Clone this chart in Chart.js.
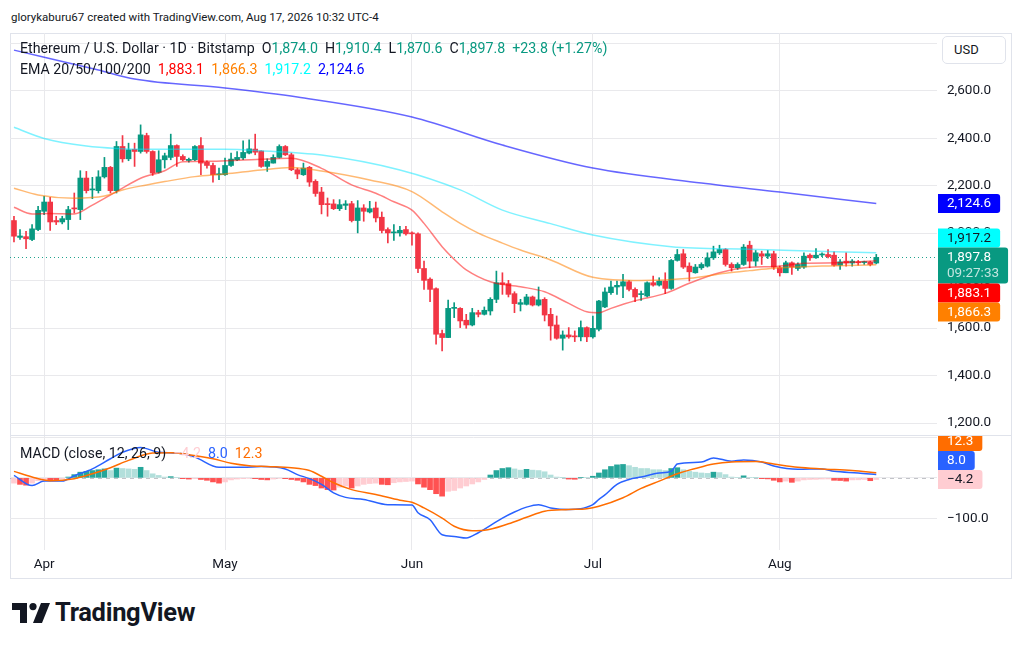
<!DOCTYPE html>
<html>
<head>
<meta charset="utf-8">
<script src="https://cdn.jsdelivr.net/npm/chart.js@4.4.1/dist/chart.umd.min.js"></script>
<style>
  body { margin: 0; width: 1024px; height: 648px; overflow: hidden; position: relative; background: #fff;
         font-family: Roboto, "Noto Sans", sans-serif; color: #131722; }
  .abs { position: absolute; }
  #head { left: 11px; top: 10px; font-size: 11.5px; }
  #frame { left: 10px; top: 33px; width: 1002px; height: 546px; border: 1px solid #e0e3eb; box-sizing: border-box; }
  #sep { left: 10px; top: 435px; width: 1002px; height: 1px; background: #e0e3eb; }
  #main { left: 10px; top: 33px; }
  #macd { left: 10px; top: 436px; }
  .leg { font-size: 14.2px; white-space: pre; line-height: 21px; }
  #usd { left: 942px; top: 36px; width: 64px; height: 28px; border: 1px solid #e0e3eb; border-radius: 5px;
         background: #fff; box-sizing: border-box; font-size: 13px; line-height: 26px; padding-left: 11px; }
  #logo { left: 12px; top: 597px; font-size: 25.5px; font-weight: 700; letter-spacing: -0.3px; }
  .g { color: #089981; }
</style>
</head>
<body>
<div id="head" class="abs">glorykaburu67 created with TradingView.com, Aug 17, 2026 10:32 UTC-4</div>
<div id="frame" class="abs"></div>
<canvas id="main" class="abs" width="1001" height="402"></canvas>
<canvas id="macd" class="abs" width="1001" height="142"></canvas>
<div id="sep" class="abs"></div>
<div id="usd" class="abs">USD</div>
<div class="abs leg" style="left:20px;top:38px">Ethereum / U.S. Dollar · 1D · Bitstamp  O<span class="g">1,874.0</span>  H<span class="g">1,910.4</span>  L<span class="g">1,870.6</span>  C<span class="g">1,897.8</span>  <span class="g">+23.8 (+1.27%)</span></div>
<div class="abs leg" style="left:20px;top:59px">EMA 20/50/100/200  <span style="color:#ff0000">1,883.1</span>  <span style="color:#ff8000">1,866.3</span>  <span style="color:#00ffff">1,917.2</span>  <span style="color:#0000ff">2,124.6</span></div>
<div class="abs leg" style="left:20px;top:443px">MACD (close, 12, 26, 9)  <span style="color:#ffcdd2">−4.2</span>  <span style="color:#2962ff">8.0</span>  <span style="color:#ff6d00">12.3</span></div>
<div id="logo" class="abs">
  <svg width="38" height="20" viewBox="0 0 38 20" style="vertical-align:-2px;margin-right:5px">
    <path d="M0 0H15V20H8V7H0Z" fill="#131722"/>
    <circle cx="21" cy="3.6" r="3.6" fill="#131722"/>
    <path d="M29 0H38L30 20H21Z" fill="#131722"/>
  </svg>TradingView</div>

<script>
// daily candles, Mar 27 .. Aug 17
const opens = [2053,1982,1985,1973,2015,2092,2131,2053,2047,2057,2106,2099,2232,2182,2179,2237,2277,2179,2365,2313,
  2353,2344,2411,2344,2256,2309,2319,2369,2323,2306,2309,2369,2299,2285,2246,2246,2285,2309,2317,2337,
  2354,2346,2281,2295,2319,2365,2330,2267,2246,2277,2218,2173,2123,2123,2103,2117,2124,2053,2106,2089,
  2106,2067,2015,2001,2001,2015,1999,1997,1851,1806,1766,1577,1560,1683,1683,1633,1613,1665,1658,1672,
  1721,1791,1787,1745,1700,1700,1731,1697,1721,1658,1613,1557,1571,1567,1563,1602,1563,1595,1689,1749,
  1773,1777,1795,1763,1741,1735,1791,1781,1798,1767,1885,1913,1861,1833,1854,1861,1896,1917,1931,1868,
  1854,1868,1949,1882,1913,1903,1913,1854,1833,1875,1851,1857,1907,1896,1908,1910,1907,1865,1882,1874,
  1879,1876,1878,1874];
const highs = [2071,2015,2008,2036,2113,2155,2151,2071,2071,2113,2169,2263,2260,2235,2263,2319,2281,2386,2411,2379,
  2379,2456,2421,2347,2347,2337,2417,2372,2330,2316,2369,2403,2305,2295,2274,2316,2337,2344,2389,2393,
  2417,2347,2313,2330,2372,2369,2337,2274,2295,2281,2225,2193,2148,2141,2141,2137,2134,2137,2120,2134,
  2131,2089,2022,2036,2029,2029,2005,2001,1882,1812,1770,1591,1718,1707,1686,1658,1683,1675,1689,1728,
  1840,1833,1801,1753,1721,1742,1735,1773,1728,1683,1651,1588,1602,1588,1630,1605,1651,1717,1770,1798,
  1798,1826,1801,1770,1756,1795,1819,1812,1833,1889,1931,1931,1875,1868,1875,1917,1945,1949,1935,1875,
  1875,1952,1966,1927,1924,1927,1924,1861,1882,1879,1875,1917,1913,1935,1917,1931,1921,1889,1917,1889,
  1885,1882,1882,1910.4];
const lows = [1963,1973,1935,1968,2010,2078,2011,2036,2039,2015,2085,2057,2169,2145,2169,2232,2169,2169,2299,2305,
  2281,2337,2337,2243,2253,2274,2309,2281,2305,2299,2305,2246,2274,2215,2225,2243,2281,2305,2309,2334,
  2330,2277,2260,2295,2316,2327,2263,2229,2243,2197,2155,2081,2071,2099,2095,2099,2047,2001,2050,2085,
  2047,2001,1959,1969,1987,1991,1949,1833,1763,1711,1532,1504,1560,1644,1602,1599,1609,1647,1655,1655,
  1707,1742,1731,1665,1672,1697,1693,1693,1630,1549,1553,1507,1557,1543,1546,1543,1557,1588,1686,1742,
  1742,1728,1756,1711,1717,1731,1777,1777,1745,1763,1882,1851,1798,1831,1847,1857,1889,1910,1861,1840,
  1847,1864,1854,1861,1868,1893,1847,1819,1833,1826,1843,1851,1885,1893,1901,1896,1861,1847,1861,1861,
  1865,1868,1862,1870.6];
const closes = [1987,1988,1976,2018,2096,2131,2047,2047,2061,2099,2102,2232,2179,2184,2237,2277,2179,2365,2313,2351,
  2344,2414,2344,2253,2309,2326,2369,2323,2309,2311,2365,2295,2285,2246,2250,2285,2312,2319,2340,2355,
  2341,2281,2302,2319,2365,2330,2267,2249,2274,2215,2167,2120,2120,2103,2120,2123,2053,2106,2092,2103,
  2064,2011,2001,2005,2012,1997,1997,1851,1801,1763,1574,1560,1683,1686,1630,1613,1665,1658,1675,1721,
  1791,1784,1742,1703,1707,1731,1697,1719,1655,1609,1557,1571,1563,1563,1602,1563,1599,1714,1752,1773,
  1780,1795,1763,1731,1742,1791,1781,1798,1767,1885,1910,1857,1837,1857,1868,1896,1921,1931,1868,1854,
  1868,1941,1882,1917,1903,1913,1857,1833,1875,1857,1868,1903,1896,1907,1910,1901,1865,1879,1874,1882,
  1875,1878,1868,1897.8];

// moving averages: [day index, value]
const ema20 = [[0,2109],[3,2081],[6,2083],[10,2081],[13,2118],[17,2175],[21,2231],[25,2263],[28,2301],[33,2303],
  [38,2308],[42,2312],[46,2315],[51,2273],[56,2203],[60,2168],[63,2132],[66,2097],[68,2041],[71,1943],[74,1866],
  [75,1845],[79,1795],[84,1774],[88,1753],[92,1704],[95,1669],[97,1665],[99,1683],[103,1715],[108,1746],
  [112,1789],[117,1833],[122,1856],[126,1859],[131,1873],[137,1875],[143,1883.1]];
const ema50 = [[0,2189],[4,2161],[10,2147],[15,2156],[18,2182],[22,2203],[25,2217],[30,2238],[35,2249],[41,2266],
  [46,2276],[51,2262],[59,2224],[66,2175],[71,2090],[74,2041],[77,2000],[81,1958],[84,1929],[89,1887],[96,1814],
  [104,1800],[112,1810],[118,1831],[122,1842],[126,1852],[134,1861],[143,1866.3]];
const ema100 = [[0,2446],[5,2399],[12,2367],[17,2357],[25,2353],[35,2353],[41,2347],[51,2329],[64,2266],[74,2182],
  [81,2097],[89,2040],[96,1992],[109,1943],[122,1932],[143,1917.2]];
const ema200 = [[0,2771],[14,2687],[20,2649],[35,2611],[47,2573],[66,2489],[81,2371],[96,2274],[114,2211],[127,2173],
  [143,2124.6]];

// MACD pane
const macdLine = [[0,6],[3,-19],[5,-8],[8,-8],[10,5],[13,22],[16,47],[18,63],[21,75],[24,63],[27,61],[30,51],[34,26],
  [38,26],[41,28],[45,22],[47,8],[49,-2],[51,-16],[53,-37],[55,-48],[58,-53],[62,-66],[66,-67],[67,-86],[69,-103],
  [71,-140],[73,-144],[75,-148],[77,-135],[81,-99],[83,-84],[85,-72],[87,-66],[89,-74],[92,-78],[94,-76],[95,-72],
  [96,-66],[97,-53],[98,-42],[100,-16],[102,-4],[104,2],[107,12],[109,16],[110,34],[114,39],[116,49],[119,41],
  [121,44],[124,39],[126,29],[130,21],[134,22],[136,16],[140,12],[143,8.0]];
const signalLine = [[0,16],[3,2],[6,-7],[10,-2],[13,10],[16,25],[19,43],[23,61],[26,62],[29,57],[33,47],[36,36],
  [39,30],[42,28],[46,25],[49,18],[51,4],[53,-12],[56,-29],[60,-41],[64,-55],[66,-60],[68,-74],[71,-99],[73,-119],
  [76,-130],[78,-129],[82,-113],[85,-97],[88,-82],[92,-78],[95,-76],[97,-70],[101,-49],[104,-26],[107,-8],[110,10],
  [113,23],[116,34],[119,39],[123,40],[126,34],[130,26],[134,22],[139,18],[143,12.3]];
const histogram = [-13,-16,-18,-13,-7,-4,-5,-6,-2,2,8,14,16,18,20,22,18,24,23,22,
  21,26,18,10,6,2,3,1,-2,-3,-2,-4,-6,-10,-13,-10,-5,-3,-2,-1,
  -2,-4,-5,-3,-1,-2,-4,-6,-10,-16,-19,-25,-29,-30,-23,-20,-25,-20,-16,-14,
  -13,-16,-17,-12,-10,-9,-8,-15,-23,-29,-39,-45,-33,-31,-25,-20,-15,-10,-4,7,
  18,23,25,22,19,21,19,18,15,7,2,0.5,-3,-3.5,1,1,4,12,20,28,
  32,33,30,26,23,23,20,20,18,23,25,20,16,14,12,11,14,13,8,2,
  1,5,1,0.5,-2,-2.5,-6,-10,-8,-11,-8,-5,-4,-3.8,-3,-2.8,-6,-6.5,-8,-5,
  -4.8,-4,-7,-4.2];

const monthTicks = [5, 35, 66, 96, 127];
const monthNames = ['Apr', 'May', 'Jun', 'Jul', 'Aug'];
const priceTicks = [1200, 1400, 1600, 1800, 2000, 2200, 2400, 2600, 2800];
const macdTicks = [-100, 0, 100];

const UP = '#089981', DOWN = '#f23645', GRID = '#e9e9ec', TXT = '#131722';
const FONT = 'Roboto, "Noto Sans", sans-serif';

function fmt(v) {
  return v.toLocaleString('en-US', {minimumFractionDigits: 1, maximumFractionDigits: 1}).replace('-', '\u2212');
}
const pts = arr => arr.map(p => ({x: p[0], y: p[1]}));
const last = arr => arr[arr.length - 1][1];

const days = closes.map((c, i) => i);
const candleCol = days.map(i => closes[i] >= opens[i] ? UP : DOWN);
const histCol = histogram.map((v, i) => {
  const prev = i ? histogram[i - 1] : v;
  if (v >= 0) return v > prev ? '#26a69a' : '#b2dfdb';
  return v < prev ? '#ff5252' : '#ffcdd2';
});

// right hand value tags, pushed apart around the anchored one
function drawTags(chart, items) {
  const ctx = chart.ctx, ca = chart.chartArea, ys = chart.scales.y;
  ctx.save();
  ctx.font = '13.5px ' + FONT;
  items.forEach(it => { it.y = ys.getPixelForValue(it.value); it.h = it.lines.length > 1 ? 36 : 19; });
  items.sort((a, b) => a.y - b.y);
  const ai = items.findIndex(it => it.anchor);
  items[ai].top = items[ai].y - (items[ai].lines.length > 1 ? 10 : 9.5);
  for (let k = ai - 1; k >= 0; k--) {
    const it = items[k];
    it.top = Math.min(it.y + it.h / 2, items[k + 1].top) - it.h;
  }
  for (let k = ai + 1; k < items.length; k++) {
    const it = items[k];
    it.top = Math.max(it.y - it.h / 2, items[k - 1].top + items[k - 1].h);
  }
  items.forEach(it => {
    const w = Math.max(...it.lines.map(l => ctx.measureText(l).width)) + 18;
    ctx.fillStyle = it.bg;
    ctx.beginPath();
    if (ctx.roundRect) ctx.roundRect(ca.right + 1, it.top, w, it.h, [0, 3, 3, 0]);
    else ctx.rect(ca.right + 1, it.top, w, it.h);
    ctx.fill();
    ctx.textBaseline = 'middle';
    it.lines.forEach((l, j) => {
      ctx.fillStyle = j ? 'rgba(255,255,255,0.75)' : it.fg;
      ctx.fillText(l, ca.right + 10, it.top + 10 + j * 16);
    });
  });
  ctx.restore();
}

const lastPriceLine = {
  id: 'lastPriceLine',
  beforeDatasetsDraw(chart) {
    const ctx = chart.ctx, ca = chart.chartArea;
    const y = chart.scales.y.getPixelForValue(closes[closes.length - 1]);
    ctx.save();
    ctx.strokeStyle = 'rgba(8,153,129,0.9)';
    ctx.lineWidth = 1;
    ctx.setLineDash([1, 3]);
    ctx.beginPath();
    ctx.moveTo(ca.left, Math.round(y) + 0.5);
    ctx.lineTo(ca.right, Math.round(y) + 0.5);
    ctx.stroke();
    ctx.restore();
  },
  afterDraw(chart) {
    drawTags(chart, [
      {value: last(ema200), lines: [fmt(last(ema200))], bg: '#0000ff', fg: '#fff'},
      {value: last(ema100), lines: [fmt(last(ema100))], bg: '#00ffff', fg: TXT},
      {value: closes[closes.length - 1], lines: [fmt(closes[closes.length - 1]), '09:27:33'], bg: UP, fg: '#fff', anchor: true},
      {value: last(ema20), lines: [fmt(last(ema20))], bg: '#ff0000', fg: '#fff'},
      {value: last(ema50), lines: [fmt(last(ema50))], bg: '#ff8000', fg: '#fff'}
    ]);
  }
};

const zeroLine = {
  id: 'zeroLine',
  beforeDatasetsDraw(chart) {
    const ctx = chart.ctx, ca = chart.chartArea;
    const y = Math.round(chart.scales.y.getPixelForValue(0)) + 0.5;
    ctx.save();
    ctx.strokeStyle = 'rgba(120,123,134,0.45)';
    ctx.setLineDash([4, 4]);
    ctx.beginPath();
    ctx.moveTo(ca.left, y);
    ctx.lineTo(ca.right, y);
    ctx.stroke();
    ctx.restore();
  },
  afterDraw(chart) {
    drawTags(chart, [
      {value: last(signalLine), lines: [fmt(last(signalLine))], bg: '#ff6d00', fg: '#fff'},
      {value: last(macdLine), lines: [fmt(last(macdLine))], bg: '#2962ff', fg: '#fff'},
      {value: histogram[histogram.length - 1], lines: [fmt(histogram[histogram.length - 1])], bg: '#ffcdd2', fg: TXT, anchor: true}
    ]);
  }
};

function xAxis(showLabels) {
  return {
    type: 'linear', min: -0.66, max: 153.07, offset: false,
    grid: {color: GRID, drawTicks: false, offset: false},
    border: {display: false},
    ticks: {display: showLabels, color: TXT, font: {size: 13.5, family: FONT}, padding: 7, maxRotation: 0,
            autoSkip: false, callback: v => monthNames[monthTicks.indexOf(v)]},
    afterBuildTicks: s => { s.ticks = monthTicks.map(v => ({value: v})); },
    afterFit: s => { s.height = showLabels ? 28 : 0; s.paddingLeft = 0; s.paddingRight = 0; }
  };
}
function yAxis(min, max, tickVals) {
  return {
    position: 'right', min: min, max: max,
    grid: {color: GRID, drawTicks: false},
    border: {display: false},
    ticks: {color: TXT, font: {size: 13.5, family: FONT}, padding: 10, callback: v => fmt(v)},
    afterBuildTicks: s => { s.ticks = tickVals.map(v => ({value: v})); },
    afterFit: s => { s.width = 74; s.paddingTop = 0; s.paddingBottom = 0; }
  };
}
const lineDs = (data, color) => ({type: 'line', data: pts(data), borderColor: color, borderWidth: 1.5,
  pointRadius: 0, cubicInterpolationMode: 'monotone', order: 0});

new Chart(document.getElementById('main'), {
  type: 'bar',
  data: {
    datasets: [
      lineDs(ema200, 'rgba(0,0,255,0.6)'),
      lineDs(ema100, 'rgba(0,230,255,0.5)'),
      lineDs(ema50, 'rgba(255,128,0,0.55)'),
      lineDs(ema20, 'rgba(255,0,0,0.5)'),
      {data: days.map(i => ({x: i, y: [lows[i], highs[i]]})), backgroundColor: candleCol,
       barThickness: 1, grouped: false, order: 3},
      {data: days.map(i => ({x: i, y: [opens[i], closes[i]]})), backgroundColor: candleCol,
       barThickness: 5, grouped: false, minBarLength: 1, order: 2}
    ]
  },
  options: {
    responsive: false, animation: false, events: [],
    layout: {padding: 0},
    plugins: {legend: {display: false}, tooltip: {enabled: false}},
    scales: {x: xAxis(false), y: yAxis(1149.5, 2843.1, priceTicks)}
  },
  plugins: [lastPriceLine]
});

new Chart(document.getElementById('macd'), {
  type: 'bar',
  data: {
    datasets: [
      {type: 'line', data: pts(signalLine), borderColor: '#ff6d00', borderWidth: 1.5, pointRadius: 0,
       cubicInterpolationMode: 'monotone', order: 0},
      {type: 'line', data: pts(macdLine), borderColor: '#2962ff', borderWidth: 1.5, pointRadius: 0,
       cubicInterpolationMode: 'monotone', order: 0},
      {data: histogram.map((v, i) => ({x: i, y: v})), backgroundColor: histCol, barThickness: 5, order: 1}
    ]
  },
  options: {
    responsive: false, animation: false, events: [],
    layout: {padding: 0},
    plugins: {legend: {display: false}, tooltip: {enabled: false}},
    scales: {x: xAxis(true), y: yAxis(-177.5, 103, macdTicks)}
  },
  plugins: [zeroLine]
});
</script>
</body>
</html>
